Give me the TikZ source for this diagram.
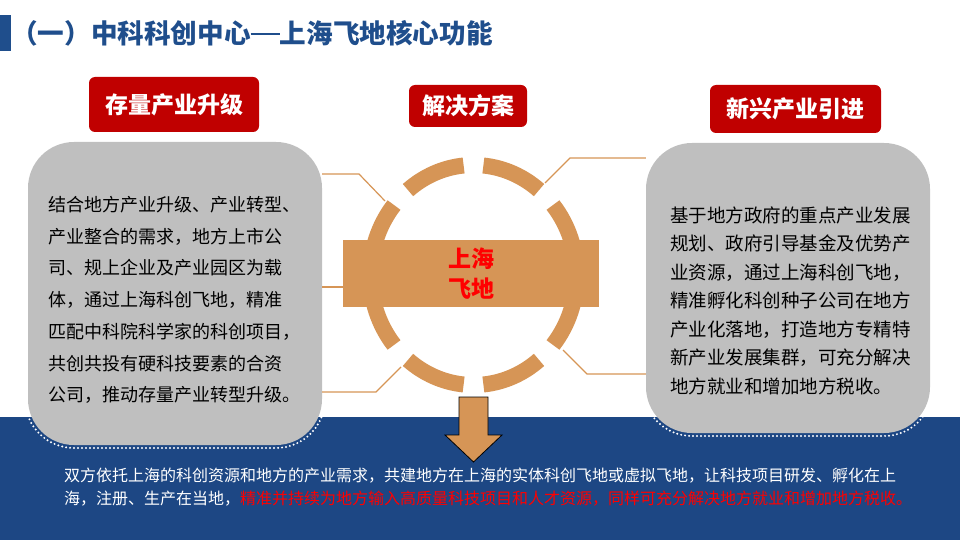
\documentclass[tikz,border=0pt]{standalone}
\usepackage{fontspec}
\setmainfont{Noto Sans CJK SC}
\usepackage{tikz}
\usetikzlibrary{shapes,arrows}
\definecolor{bandblue}{RGB}{29,71,132}
\definecolor{titleblue}{RGB}{31,78,140}
\definecolor{tagred}{RGB}{192,0,0}
\definecolor{ringorange}{RGB}{214,149,86}
\definecolor{panelgray}{RGB}{191,191,191}
\tikzstyle{tag} = [rectangle, fill=tagred, rounded corners=6pt, text=white, font=\fontsize{23}{23}\selectfont\bfseries, inner sep=0pt]
\tikzstyle{panel} = [rectangle, fill=panelgray, rounded corners=46pt, inner sep=0pt]
\tikzstyle{rim} = [draw=white, line width=2.2pt, dash pattern=on 0pt off 4pt, line cap=round, rounded corners=49pt]
\tikzstyle{body} = [align=left, anchor=west, text=black, inner sep=0pt]
\tikzstyle{ring} = [draw=ringorange, line width=16pt]
\tikzstyle{line} = [draw=ringorange, line width=1.2pt]

\begin{document}
\begin{tikzpicture}[x=1pt, y=-1pt]
  \useasboundingbox (0,0) rectangle (960,540);
  \fill [bandblue] (0,417) rectangle (960,540);

  % title
  \fill [titleblue] (0,15) rectangle (11,51);
  \node [anchor=west, inner sep=0pt, text=titleblue, font=\fontsize{26.6}{26.6}\selectfont\bfseries] (title) at (11,33) {（一）中科科创中心\rule[0.3em]{1.1em}{0.1em}上海飞地核心功能};

  % ring
  \coordinate (core) at (473.5,275);
  \foreach \a/\b in {50.5/84.5, 95.5/129.5, 140.5/219.5, 230.5/264.5, 275.5/309.5, 320.5/399.5}
    \draw [ring] (core) ++(\a:103 and 110) arc [start angle=\a, end angle=\b, x radius=103, y radius=110];

  % nodes
  \node [rectangle, fill=ringorange, minimum width=256pt, minimum height=67pt, inner sep=0pt, align=center, text=red, font=\fontsize{23}{30}\selectfont\bfseries] (hub) at (471,273.5) {上海\\飞地};
  \node [panel, minimum width=294pt, minimum height=303pt] (panel_old) at (175,293.5) {};
  \node [panel, minimum width=284pt, minimum height=290pt] (panel_new) at (788,288) {};
  \draw [rim] (25,139) rectangle (325,448);
  \draw [rim] (643,140) rectangle (933,436);
  \node [tag, minimum width=170pt, minimum height=55pt] (tag_old) at (174,104.5) {存量产业升级};
  \node [tag, minimum width=118pt, minimum height=42pt] (tag_sol) at (468,106) {解决方案};
  \node [tag, minimum width=171pt, minimum height=48pt] (tag_new) at (795.5,109) {新兴产业引进};
  \node [body, font=\fontsize{18}{31.7}\selectfont] (text_old) at (48,300) {结合地方产业升级、产业转型、\\产业整合的需求，地方上市公\\司、规上企业及产业园区为载\\体，通过上海科创飞地，精准\\匹配中科院科学家的科创项目，\\共创共投有硬科技要素的合资\\公司，推动存量产业转型升级。};
  \node [body, font=\fontsize{18.5}{28.5}\selectfont] (text_new) at (670,300.5) {基于地方政府的重点产业发展\\规划、政府引导基金及优势产\\业资源，通过上海科创飞地，\\精准孵化科创种子公司在地方\\产业化落地，打造地方专精特\\新产业发展集群，可充分解决\\地方就业和增加地方税收。};

  % edges
  \path [line] (panel_old.east |- 0,174) -- (359,174) -- (385,201);
  \path [line] (panel_old.east |- 0,287) -- (hub.west |- 0,287);
  \path [line] (panel_old.east |- 0,392) -- (376,392) -- (401,367);
  \path [line] (panel_new.west |- 0,158) -- (570,158) -- (545,183);
  \path [line] (panel_new.west |- 0,374) -- (587,374) -- (563,350);

  % arrow
  \draw [fill=ringorange, draw=black, line width=0.8pt] (459,397) -- (488,397) -- (488,435) -- (502,435) -- (473.5,462) -- (445,435) -- (459,435) -- cycle;

  % summary
  \node [anchor=west, align=left, inner sep=0pt, text=white, font=\fontsize{16}{23}\selectfont] (summary) at (64,487.5) {双方依托上海的科创资源和地方的产业需求，共建地方在上海的实体科创飞地或虚拟飞地，让科技项目研发、孵化在上\\海，注册、生产在当地，\textcolor{red}{精准并持续为地方输入高质量科技项目和人才资源，同样可充分解决地方就业和增加地方税收。}};
\end{tikzpicture}
\end{document}
